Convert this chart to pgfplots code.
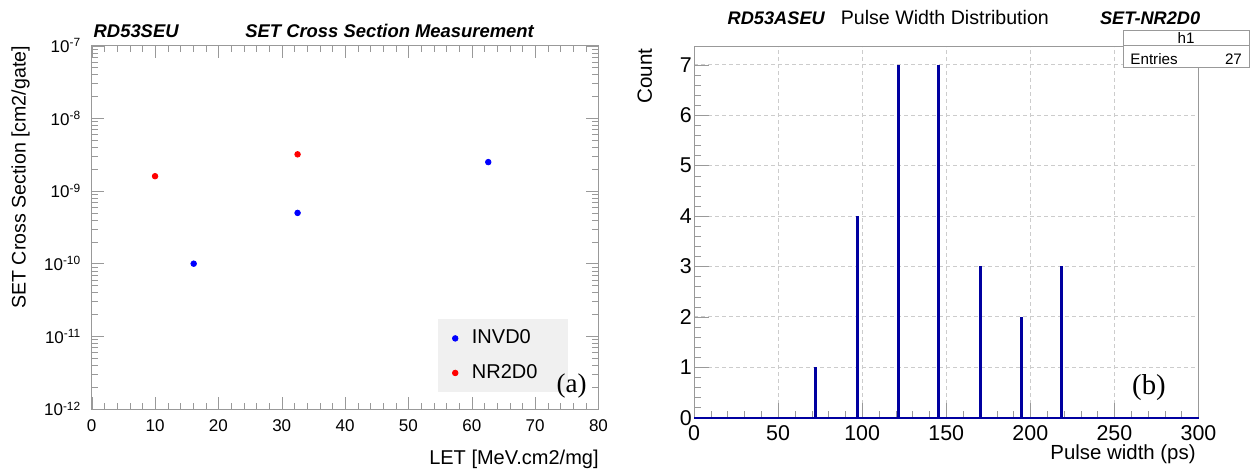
\documentclass[border=0pt]{standalone}
\usepackage{fontspec}
\setmainfont{Liberation Sans}
\newfontfamily\tnr{Liberation Serif}
\usepackage{pgfplots}
\usepackage{pgfplotstable}
\pgfplotsset{compat=1.18}
\definecolor{axgray}{gray}{0.6}
\definecolor{histblue}{RGB}{0,0,160}
\definecolor{leggray}{gray}{0.94}

\pgfplotstableread{
x y
16.1 1.0e-10
32.5 5.0e-10
62.6 2.5e-9
}\invd
\pgfplotstableread{
x y
10.0 1.6e-9
32.5 3.2e-9
}\nrtwo
\pgfplotstableread{
x y
72.5 1
97.5 4
121.5 7
145.5 7
170.5 3
194.5 2
218.5 3
}\pw

\begin{document}
\begin{tikzpicture}[x=0.5pt,y=0.5pt]
\useasboundingbox (0,0) rectangle (1254,471);
% ---------------- left panel ----------------
\begin{axis}[
  at={(45.85pt,31pt)}, anchor=south west, scale only axis,
  width=253.4pt, height=181.65pt,
  xmin=0, xmax=80, ymode=log, ymin=1e-12, ymax=1e-7,
  xtick={0,10,...,80}, minor x tick num=4,
  ytick={1e-12,1e-11,1e-10,1e-9,1e-8,1e-7},
  yticklabels={10\textsuperscript{-12},10\textsuperscript{-11},10\textsuperscript{-10},10\textsuperscript{-9},10\textsuperscript{-8},10\textsuperscript{-7}},
  tick align=inside,
  axis line style={axgray}, tick style={axgray},
  major tick length=6pt, minor tick length=3.2pt,
  ticklabel style={font=\fontsize{8.5}{10}\selectfont, text=black},
  xticklabel style={yshift=-1.7pt},
  yticklabel style={xshift=-1.7pt},
  /pgf/number format/assume math mode=true,
  legend style={at={(0.683,0.2477)}, anchor=north west, fill=leggray, draw=none,
    font=\fontsize{10}{12}\selectfont, inner xsep=7.1pt, inner ysep=5.25pt, row sep=8.8pt,
    nodes={inner sep=0pt},
    /tikz/every odd column/.append style={column sep=6.95pt}},
  legend cell align=left,
  legend image code/.code={\draw[#1] plot coordinates {(0pt,0pt)};},
]
\addplot[only marks, mark=*, mark size=1.4pt, color=blue] table {\invd};
\addlegendentry{\makebox[41pt][l]{INVD0}}
\addplot[only marks, mark=*, mark size=1.4pt, color=red] table {\nrtwo};
\addlegendentry{\makebox[41pt][l]{NR2D0}}
\end{axis}
\node[anchor=base west, inner sep=0, font=\bfseries\itshape\fontsize{9.2}{11}\selectfont] at (93.3,433.7) {RD53SEU};
\node[anchor=base west, inner sep=0, font=\bfseries\itshape\fontsize{9.2}{11}\selectfont] at (245,433.7) {SET Cross Section Measurement};
\node[rotate=90, anchor=east, inner sep=0, font=\fontsize{9.8}{12}\selectfont] at (20.5,425.3) {SET Cross Section [cm2/gate]};
\node[anchor=base east, inner sep=0, font=\fontsize{10}{12}\selectfont] at (599,6) {LET [MeV.cm2/mg]};
\node[font=\tnr\fontsize{13.5}{16}\selectfont] at (571.7,85) {(a)};
% ---------------- right panel ----------------
\begin{axis}[
  at={(347pt,26.65pt)}, anchor=south west, scale only axis,
  width=252.25pt, height=185.5pt,
  xmin=0, xmax=300, ymin=0, ymax=7.36,
  xtick={0,50,...,300}, ytick={0,1,...,7},
  minor x tick num=4, minor y tick num=4,
  tick pos=left, tick align=inside,
  grid=major, major grid style={black!20, dash pattern=on 2pt off 1.5pt},
  axis line style={axgray}, tick style={axgray},
  major tick length=7.5pt, minor tick length=3.5pt,
  ticklabel style={font=\fontsize{10.7}{12}\selectfont, text=black},
  xticklabel style={yshift=-0.5pt},
  yticklabel style={xshift=2.4pt},
  /pgf/number format/assume math mode=true,
  clip=false,
]
\addplot[ycomb, histblue, line width=1.5pt] table {\pw};
\addplot[histblue, line width=1pt] coordinates {(0,0) (300,0)};
\end{axis}
\node[anchor=base west, inner sep=0, font=\bfseries\itshape\fontsize{9.1}{11}\selectfont] at (727.3,446) {RD53ASEU};
\node[anchor=base west, inner sep=0, font=\fontsize{9.8}{12}\selectfont] at (840.4,446) {Pulse Width Distribution};
\node[anchor=base west, inner sep=0, font=\bfseries\itshape\fontsize{9.1}{11}\selectfont] at (1099.7,446) {SET-NR2D0};
\draw[axgray, fill=white] (1123,440.3) rectangle (1249,403.3);
\draw[axgray] (1123,425.3) -- (1249,425.3);
\node[inner sep=0, font=\fontsize{7.6}{9}\selectfont] at (1186,432.8) {h1};
\node[anchor=west, inner sep=0, font=\fontsize{7.6}{9}\selectfont] at (1130,411.7) {Entries};
\node[anchor=east, inner sep=0, font=\fontsize{7.6}{9}\selectfont] at (1242.3,411.7) {27};
\node[rotate=90, anchor=east, inner sep=0, font=\fontsize{10.3}{12}\selectfont] at (644.7,422.7) {Count};
\node[anchor=base east, inner sep=0, font=\fontsize{10.2}{12}\selectfont] at (1196,11) {Pulse width (ps)};
\node[font=\tnr\fontsize{14.4}{17}\selectfont] at (1149,83) {(b)};
\end{tikzpicture}
\end{document}
